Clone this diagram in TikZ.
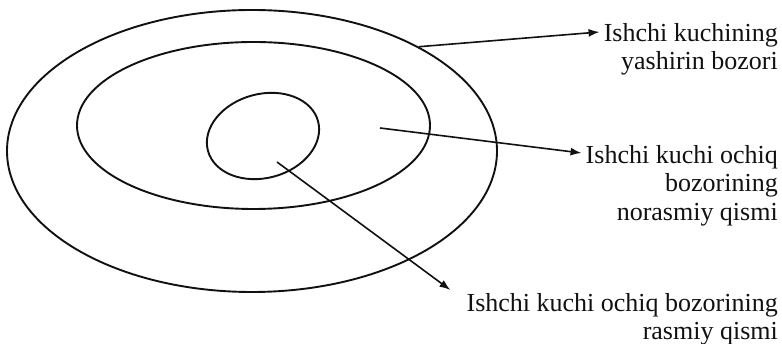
\documentclass[tikz,border=0pt]{standalone}
\usepackage{fontspec}
\setmainfont{Liberation Serif}
\usepackage{xcolor}
\usepackage{tikz}
\usetikzlibrary{arrows.meta,positioning,shapes.geometric}
\definecolor{inkblack}{HTML}{111111}
\tikzset{
  ringnode/.style={draw=inkblack,ellipse,line width=1.9pt,inner sep=0pt},
  labelnode/.style={inner sep=0pt,align=right,anchor=north east,font=\fontsize{26}{28.5}\selectfont,text=inkblack},
  pointarrow/.style={-{Latex[length=11pt,width=8pt]},draw=inkblack,line width=1.6pt},
}
\begin{document}
\begin{tikzpicture}[x=1pt,y=1pt]
    \useasboundingbox (0,0) rectangle (782,344);
    % rings
    \node[ringnode,minimum width=490pt,minimum height=282pt] (outer) at (252,193) {};
    \node[ringnode,minimum width=353pt,minimum height=167pt] (middle) at (253.5,218.5) {};
    \node[ringnode,minimum width=114pt,minimum height=84pt,rotate=15] (inner) at (263,208) {};
    % labels
    \node[labelnode] (hidden) at (778,321) {Ishchi kuchining\\yashirin bozori};
    \node[labelnode] (informal) at (778,199) {Ishchi kuchi ochiq\\bozorining\\norasmiy qismi};
    \node[labelnode] (formal) at (778,51) {Ishchi kuchi ochiq bozorining\\rasmiy qismi};
    \coordinate (ringpt) at (380,216);
    \coordinate (corept) at (277,182);
    % arrows
    \draw[pointarrow] (outer.32) -- ([xshift=-4pt,yshift=-9pt]hidden.north west);
    \draw[pointarrow] (ringpt) -- ([xshift=-4pt,yshift=-8pt]informal.north west);
    \draw[pointarrow] (corept) -- ([xshift=-16pt,yshift=3pt]formal.north west);
  \end{tikzpicture}
\end{document}
